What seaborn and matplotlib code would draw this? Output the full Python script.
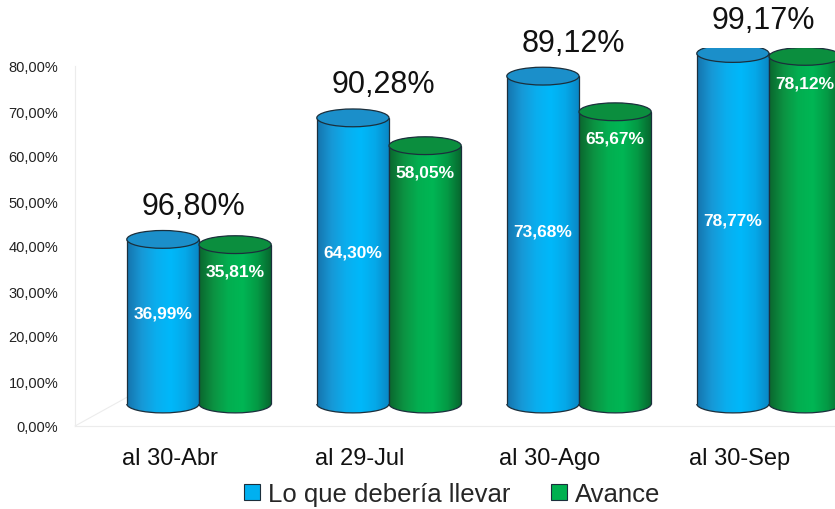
import numpy as np
import pandas as pd
import matplotlib
matplotlib.use("Agg")
import matplotlib.pyplot as plt
import seaborn as sns
from matplotlib.patches import Ellipse, Arc, Patch
from matplotlib.colors import LinearSegmentedColormap

# ---- data ----
categories = ["al 30-Abr", "al 29-Jul", "al 30-Ago", "al 30-Sep"]
series = ["Lo que debería llevar", "Avance"]
lo_que = [36.99, 64.30, 73.68, 78.77]
avance = [35.81, 58.05, 65.67, 78.12]
ratio = [96.80, 90.28, 89.12, 99.17]
yticks = [0, 10, 20, 30, 40, 50, 60, 70, 80]

def fmt(v):
    return f"{v:.2f}".replace(".", ",") + "%"

df = pd.DataFrame({
    "cat": categories * 2,
    "serie": [series[0]] * 4 + [series[1]] * 4,
    "valor": lo_que + avance,
})

sns.set_theme(style="white")
plt.rcParams["font.family"] = ["Liberation Sans", "DejaVu Sans"]

W, H = 835, 510
fig = plt.figure(figsize=(W / 100, H / 100), dpi=100)

# back wall axes (ticks, category labels)
ax_b = fig.add_axes([75 / W, 1 - 427 / H, (W - 75) / W, 360 / H])
ax_b.set_xlim(-0.5, 3.5)
ax_b.set_ylim(0, 80)
ax_b.set_yticks(yticks)
ax_b.set_yticklabels([fmt(v) for v in yticks], fontsize=10.5, color="#222222")
ax_b.set_xticks(range(4))
ax_b.set_xticklabels(categories, fontsize=17, color="#111111")
ax_b.tick_params(axis="y", length=0, pad=12)
ax_b.tick_params(axis="x", length=0, pad=15)
for s in ["top", "right"]:
    ax_b.spines[s].set_visible(False)
for s in ["left", "bottom"]:
    ax_b.spines[s].set_color("#ececec")
    ax_b.spines[s].set_linewidth(0.8)
ax_b.plot([-0.5, -0.2], [0, 7], color="#ececec", lw=0.8, clip_on=False)

# front axes (the cylinders)
PX = 4.45          # pixels per percent on the front plane
YMIN = -4
ax = fig.add_axes([0, 1 - (405 - YMIN * PX) / H, 1, (80 - YMIN) * PX / H])
ax.patch.set_alpha(0)
palette = {series[0]: "#00B0F0", series[1]: "#00B050"}
sns.barplot(data=df, x="cat", y="valor", hue="serie", hue_order=series,
            order=categories, palette=palette, width=0.76, legend=False,
            ax=ax, errorbar=None)

cmaps = {
    series[0]: LinearSegmentedColormap.from_list(
        "b", ["#1574ad", "#1798d6", "#0aaeee", "#00b8fa", "#05a9e9", "#0a84c2"]),
    series[1]: LinearSegmentedColormap.from_list(
        "g", ["#0a662e", "#0c9242", "#03ae50", "#00b654", "#049a45", "#07642d"]),
}
tops = {series[0]: "#1b8fca", series[1]: "#0b8e3e"}
edge = "#1b2f3c"
grad = np.linspace(0, 1, 256).reshape(1, -1)
eh = 4.0  # ellipse height in data units

bars = list(ax.patches)
for i, p in enumerate(bars):
    s = series[i // 4]
    x, w, h = p.get_x(), p.get_width(), p.get_height()
    z = 3 + (i // 4) * 0.5 + (i % 4) * 0.01
    p.set_facecolor("none")
    p.set_edgecolor("none")
    # bottom half-ellipse
    eb = Ellipse((x + w / 2, 0), w, eh, facecolor="none", edgecolor="none",
                 zorder=z)
    ax.add_patch(eb)
    im2 = ax.imshow(grad, cmap=cmaps[s], extent=[x, x + w, -eh / 2, 0], aspect="auto",
                    zorder=z, interpolation="bilinear")
    im2.set_clip_path(eb)
    ax.add_patch(Arc((x + w / 2, 0), w, eh, theta1=180, theta2=360,
                     edgecolor=edge, lw=0.9, zorder=z + 0.003))
    # body gradient clipped to bar
    im = ax.imshow(grad, cmap=cmaps[s], extent=[x, x + w, 0, h], aspect="auto",
                   zorder=z + 0.002, interpolation="bilinear")
    im.set_clip_path(p)
    ax.vlines([x, x + w], 0, h, color=edge, lw=0.9, zorder=z + 0.003)
    # top ellipse
    ax.add_patch(Ellipse((x + w / 2, h), w, eh, facecolor=tops[s], edgecolor=edge,
                         lw=0.9, zorder=z + 0.004))

# value labels inside bars
for i, p in enumerate(bars):
    x, w, h = p.get_x(), p.get_width(), p.get_height()
    ypos = h / 2 + 2 if i < 4 else h - 6
    ax.text(x + w / 2, ypos, fmt(h), ha="center", va="center", color="white",
            fontsize=12.5, fontweight="bold", zorder=10, clip_on=False)

# ratio labels above each group
for j in range(4):
    top = max(lo_que[j], avance[j])
    ax.text(j - 0.03, top + 7.5, fmt(ratio[j]), ha="center", va="center",
            fontsize=22, color="#111111", zorder=10, clip_on=False)

ax.set_xlim(-199 / 190, (W - 199) / 190)
ax.set_ylim(YMIN, 80)
ax.set_axis_off()

handles = [Patch(facecolor="#00B0F0", edgecolor=edge, lw=0.8),
           Patch(facecolor="#00B050", edgecolor=edge, lw=0.8)]
fig.legend(handles, series, loc="center", bbox_to_anchor=(452 / W, 1 - 495 / H),
           ncol=2, frameon=False, fontsize=18.5, handlelength=0.62,
           handleheight=0.62, handletextpad=0.3, columnspacing=1.6,
           borderpad=0, borderaxespad=0)

fig.savefig("out.png", dpi=100)
